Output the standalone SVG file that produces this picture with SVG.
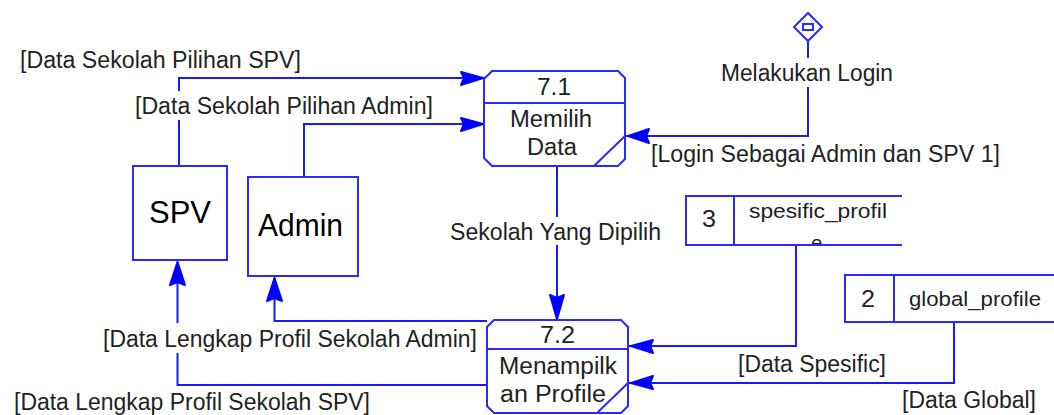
<svg xmlns="http://www.w3.org/2000/svg" width="1054" height="415" viewBox="0 0 1054 415">
<defs>
<style>
.s{fill:none;stroke:#2a2aff;stroke-width:2}
.c{fill:none;stroke:#1a1aff;stroke-width:2}
.a{fill:#0000ff;stroke:#0000ff;stroke-width:2;stroke-linejoin:round}
text{font-family:"Liberation Sans",Arial,sans-serif;font-size:23px;fill:#222}
.d{font-size:20.500px}
.e{font-size:31px;fill:#000}
</style>
<clipPath id="cp"><rect x="800" y="230" width="40" height="14"/></clipPath>
</defs>
<rect width="1054" height="415" fill="#fff"/>
<g id="connectors">
<path class="c" d="M179 166V120M179 91V78H484"/>
<path class="c" d="M304 177V124H484"/>
<path class="c" d="M808 41V58M808 87V136H626"/>
<path class="c" d="M557 166V217M557 245V320"/>
<path class="c" d="M796 245V346H629"/>
<path class="c" d="M954 322V383H629"/>
<path class="c" d="M487 321H274.500V278"/>
<path class="c" d="M487 385H177.500V353M177.500 323V262"/>
<polygon class="a" points="483,78 461,72 464,78 461,85"/>
<polygon class="a" points="483,124 461,118 464,124 461,131"/>
<polygon class="a" points="628,136 649,129 646,136 649,143"/>
<polygon class="a" points="557,319 550,295 557,298 564,295"/>
<polygon class="a" points="631,346 653,340 650,346 653,353"/>
<polygon class="a" points="631,383 653,376 650,383 653,389"/>
<polygon class="a" points="274.500,278 267,301 274.500,298 282,301"/>
<polygon class="a" points="177.500,262 170,285 177.500,282 185,285"/>
</g>
<g id="n71">
<path class="s" d="M492 71H618L625 78V159L618 166H492L484 158V79Z"/>
<path class="s" d="M484 103H625M594 166L625 136"/>
<text x="537" y="95" textLength="34" lengthAdjust="spacingAndGlyphs">7.1</text>
<text x="510" y="127" textLength="82" lengthAdjust="spacingAndGlyphs">Memilih</text>
<text x="527" y="155" textLength="50" lengthAdjust="spacingAndGlyphs">Data</text>
</g>
<g id="n72">
<path class="s" d="M494 320H621L628 327V406L621 413H494L487 406V327Z"/>
<path class="s" d="M487 349H628M597 413L628 383"/>
<text x="540" y="343" textLength="35" lengthAdjust="spacingAndGlyphs">7.2</text>
<text x="499" y="374" textLength="118" lengthAdjust="spacingAndGlyphs">Menampilk</text>
<text x="500" y="402" textLength="106" lengthAdjust="spacingAndGlyphs">an Profile</text>
</g>
<g id="spv">
<rect class="s" x="133" y="166" width="94" height="94"/>
<text class="e" x="149" y="223" textLength="62" lengthAdjust="spacingAndGlyphs">SPV</text>
</g>
<g id="admin">
<rect class="s" x="248" y="177" width="110" height="99"/>
<text class="e" x="258" y="236" textLength="85" lengthAdjust="spacingAndGlyphs">Admin</text>
</g>
<g id="store3">
<path class="s" d="M902 196H686V245H902M734 196V245"/>
<text x="702" y="227" textLength="14" lengthAdjust="spacingAndGlyphs">3</text>
<text class="d" x="749" y="218" textLength="138" lengthAdjust="spacingAndGlyphs">spesific_profil</text>
<text class="d" x="811" y="250" clip-path="url(#cp)">e</text>
</g>
<g id="store2">
<path class="s" d="M1054 275H845V322H1054M894 275V322"/>
<text x="861" y="307" textLength="14" lengthAdjust="spacingAndGlyphs">2</text>
<text class="d" x="909" y="306" textLength="132" lengthAdjust="spacingAndGlyphs">global_profile</text>
</g>
<g id="melakukan-login">
<path class="s" d="M808 13L822 27L808 41L794 27Z"/>
<rect class="s" x="803" y="24" width="10" height="6"/>
</g>
<g id="labels">
<text x="20" y="68" textLength="281" lengthAdjust="spacingAndGlyphs">[Data Sekolah Pilihan SPV]</text>
<text x="135" y="114" textLength="298" lengthAdjust="spacingAndGlyphs">[Data Sekolah Pilihan Admin]</text>
<text x="721" y="81" textLength="172" lengthAdjust="spacingAndGlyphs">Melakukan Login</text>
<text x="651" y="162" textLength="349" lengthAdjust="spacingAndGlyphs">[Login Sebagai Admin dan SPV 1]</text>
<text x="450" y="240" textLength="211" lengthAdjust="spacingAndGlyphs">Sekolah Yang Dipilih</text>
<text x="103" y="347" textLength="374" lengthAdjust="spacingAndGlyphs">[Data Lengkap Profil Sekolah Admin]</text>
<text x="14" y="410" textLength="356" lengthAdjust="spacingAndGlyphs">[Data Lengkap Profil Sekolah SPV]</text>
<text x="738" y="372" textLength="148" lengthAdjust="spacingAndGlyphs">[Data Spesific]</text>
<text x="902" y="408" textLength="134" lengthAdjust="spacingAndGlyphs">[Data Global]</text>
</g>
</svg>
